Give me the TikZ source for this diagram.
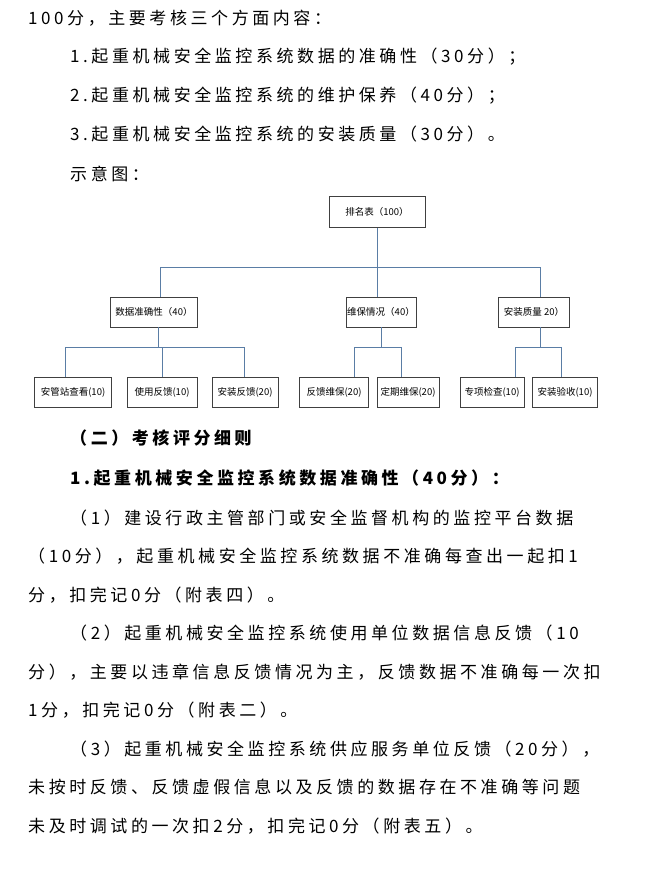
\documentclass[tikz,border=0pt]{standalone}
\usepackage{fontspec}
\setmainfont{Noto Sans CJK SC}[LetterSpace=21]
\newfontfamily\boxfont{Noto Sans CJK SC}
\begin{document}
\begin{tikzpicture}[x=1pt,y=-1pt,
  txt/.style={anchor=west,inner sep=0pt,font=\fontsize{17}{17}\selectfont},
  btxt/.style={txt,font=\fontsize{17}{17}\selectfont\bfseries},
  bx/.style={draw=black!75,line width=0.7pt,inner sep=0pt,font=\boxfont\fontsize{9.5}{9.5}\selectfont},
  ln/.style={draw={rgb,255:red,90;green,125;blue,165},line width=1pt}]
\useasboundingbox (0,0) rectangle (648,878);
\node[txt] (l1) at (28,18) {100分，主要考核三个方面内容：};
\node[txt] (l2) at (70,57) {1.起重机械安全监控系统数据的准确性（30分）；};
\node[txt] (l3) at (70,96) {2.起重机械安全监控系统的维护保养（40分）；};
\node[txt] (l4) at (70,134) {3.起重机械安全监控系统的安装质量（30分）。};
\node[txt] (l5) at (70,174) {示意图：};
% diagram
\node[bx,minimum width=96,minimum height=31] (top) at (377,212) {排名表（100）};
\node[bx,minimum width=87,minimum height=30] (m1) at (154,312) {数据准确性（40）};
\node[bx,minimum width=70,minimum height=30] (m2) at (381,312) {维保情况（40）};
\node[bx,minimum width=71,minimum height=30] (m3) at (534,312) {安装质量 20）};
\node[bx,minimum width=77,minimum height=30] (b1) at (73,392) {安管站查看(10)};
\node[bx,minimum width=70,minimum height=30] (b2) at (162,392) {使用反馈(10)};
\node[bx,minimum width=66,minimum height=30] (b3) at (245,392) {安装反馈(20)};
\node[bx,minimum width=69,minimum height=30] (b4) at (334,392) {反馈维保(20)};
\node[bx,minimum width=62,minimum height=30] (b5) at (408,392) {定期维保(20)};
\node[bx,minimum width=64,minimum height=30] (b6) at (492,392) {专项检查(10)};
\node[bx,minimum width=65,minimum height=30] (b7) at (565,392) {安装验收(10)};
\coordinate (h1) at (0,267);
\coordinate (h2) at (0,347);
\draw[ln] (top.south) -- (top.south |- h1);
\draw[ln] (160,267) -- (540,267);
\draw[ln] (160,267) -- (160,297);
\draw[ln] (top.south |- h1) -- (top.south |- m2.north);
\draw[ln] (540,267) -- (540,297);
\draw[ln] (158,327) -- (158,347);
\draw[ln] (65,347) -- (244,347);
\draw[ln] (65,347) -- (65,377);
\draw[ln] (b2.north |- h2) -- (b2.north);
\draw[ln] (244,347) -- (244,377);
\draw[ln] (m2.south) -- (m2.south |- h2);
\draw[ln] (354,347) -- (401,347);
\draw[ln] (354,347) -- (354,377);
\draw[ln] (401,347) -- (401,377);
\draw[ln] (540,327) -- (540,347);
\draw[ln] (515,347) -- (561,347);
\draw[ln] (515,347) -- (515,377);
\draw[ln] (561,347) -- (561,377);
% lower text
\node[btxt] (s1) at (70,438) {（二）考核评分细则};
\node[btxt] (s2) at (70,478) {1.起重机械安全监控系统数据准确性（40分）：};
\node[txt] (p1) at (70,518) {（1）建设行政主管部门或安全监督机构的监控平台数据};
\node[txt] (p2) at (28,556) {（10分），起重机械安全监控系统数据不准确每查出一起扣1};
\node[txt] (p3) at (28,595) {分，扣完记0分（附表四）。};
\node[txt] (p4) at (70,633) {（2）起重机械安全监控系统使用单位数据信息反馈（10};
\node[txt] (p5) at (28,672) {分），主要以违章信息反馈情况为主，反馈数据不准确每一次扣};
\node[txt] (p6) at (28,710) {1分，扣完记0分（附表二）。};
\node[txt] (p7) at (70,749) {（3）起重机械安全监控系统供应服务单位反馈（20分），};
\node[txt] (p8) at (28,787) {未按时反馈、反馈虚假信息以及反馈的数据存在不准确等问题};
\node[txt] (p9) at (28,826) {未及时调试的一次扣2分，扣完记0分（附表五）。};
\end{tikzpicture}
\end{document}
